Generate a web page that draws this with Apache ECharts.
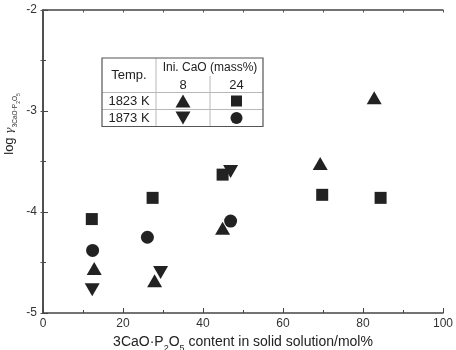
<!DOCTYPE html>
<html>
<head>
<meta charset="utf-8">
<script src="https://cdn.jsdelivr.net/npm/echarts@6/dist/echarts.min.js"></script>
<style>
  html, body { margin: 0; padding: 0; background: #fff; }
  #chart { width: 456px; height: 350px; }
</style>
</head>
<body>
<div id="chart"></div>
<script>
  // 1823 K, Ini. CaO 8 mass% (up triangle)
  var up1823 = [[12.8, -4.56], [27.9, -4.68], [44.9, -4.16], [69.3, -3.52], [82.8, -2.87]];
  // 1823 K, Ini. CaO 24 mass% (square)
  var sq1823 = [[12.2, -4.07], [27.4, -3.86], [44.9, -3.63], [69.8, -3.83], [84.4, -3.86]];
  // 1873 K, Ini. CaO 8 mass% (down triangle)
  var down1873 = [[12.3, -4.77], [29.4, -4.60], [46.9, -3.60]];
  // 1873 K, Ini. CaO 24 mass% (circle)
  var circ1873 = [[12.4, -4.38], [26.1, -4.25], [46.9, -4.09]];

  var tempLabels = ['1823 K', '1873 K'];
  var caoLabels = ['8', '24'];

  var ink = '#222';
  var font = 'Liberation Sans';

  var chart = echarts.init(document.getElementById('chart'), null, { renderer: 'canvas' });

  function scatter(name, data, symbol, size, rotate) {
    return {
      name: name,
      type: 'scatter',
      data: data,
      symbol: symbol,
      symbolSize: size,
      symbolRotate: rotate || 0,
      itemStyle: { color: ink, opacity: 1 },
      animation: false
    };
  }

  var axisLine = { lineStyle: { color: '#444', width: 1.5 } };

  // legend table (drawn in pixel space inside the plot)
  var tx = [102, 156, 210, 263];
  var ty = [58, 92.5, 109.5, 126.5];
  var gray = '#b8b8b8';
  function line(x1, y1, x2, y2, c, w) {
    return { type: 'line', shape: { x1: x1, y1: y1, x2: x2, y2: y2 }, style: { stroke: c, lineWidth: w }, silent: true };
  }
  function txt(x, y, s, size) {
    return { type: 'text', x: x, y: y, style: { text: s, font: size + 'px ' + font, fill: '#222', align: 'center', verticalAlign: 'middle' } };
  }
  function tri(cx, cy, down) {
    var w = 7.5, h = 6.5;
    var pts = down ? [[cx - w, cy - h], [cx + w, cy - h], [cx, cy + h]] : [[cx - w, cy + h], [cx + w, cy + h], [cx, cy - h]];
    return { type: 'polygon', shape: { points: pts }, style: { fill: ink } };
  }
  var c1 = (tx[1] + tx[2]) / 2, c2 = (tx[2] + tx[3]) / 2;
  var r1 = (ty[1] + ty[2]) / 2, r2 = (ty[2] + ty[3]) / 2;
  var table = [
    { type: 'rect', shape: { x: tx[0], y: ty[0], width: tx[3] - tx[0], height: ty[3] - ty[0] }, style: { fill: '#fff', stroke: 'none' } },
    line(tx[0], ty[1], tx[3], ty[1], gray, 1),
    line(tx[0], ty[2], tx[3], ty[2], gray, 1),
    line(tx[1], ty[0], tx[1], ty[3], gray, 1),
    line(tx[2], 76, tx[2], ty[3], gray, 1),
    { type: 'rect', shape: { x: tx[0], y: ty[0], width: tx[3] - tx[0], height: ty[3] - ty[0] }, style: { fill: 'none', stroke: '#555', lineWidth: 1.2 } },
    txt((tx[0] + tx[1]) / 2, 75, 'Temp.', 13),
    txt(c1 + 27, 68, 'Ini. CaO (mass%)', 12),
    txt(c1, 85, caoLabels[0], 13),
    txt(c2, 85, caoLabels[1], 13),
    txt((tx[0] + tx[1]) / 2, r1 + 0.5, tempLabels[0], 13),
    txt((tx[0] + tx[1]) / 2, r2 + 0.5, tempLabels[1], 13),
    tri(c1, r1, false),
    { type: 'rect', shape: { x: c2 - 5.5, y: r1 - 5.5, width: 11, height: 11 }, style: { fill: ink } },
    tri(c1, r2, true),
    { type: 'circle', shape: { cx: c2, cy: r2, r: 6 }, style: { fill: ink } }
  ];

  var yTitle = {
    type: 'text',
    x: 12,
    y: 124,
    rotation: Math.PI / 2,
    style: {
      text: '{a|log}{g| γ}{s|3CaO·P}{ss|2}{s|O}{ss|5}',
      align: 'center',
      verticalAlign: 'middle',
      fill: '#222',
      rich: {
        a: { fontSize: 13, fontFamily: font, verticalAlign: 'bottom', padding: [0, 0, 5, 0], fill: '#222' },
        g: { fontSize: 11, fontFamily: 'DejaVu Serif', fontStyle: 'italic', verticalAlign: 'bottom', padding: [0, 0, 5, 0], fill: '#333' },
        s: { fontSize: 6.5, fontFamily: font, verticalAlign: 'bottom', padding: [0, 0, 2, 0], fill: '#333' },
        ss: { fontSize: 5, fontFamily: font, verticalAlign: 'bottom', fill: '#333' }
      }
    }
  };

  chart.setOption({
    backgroundColor: '#fff',
    animation: false,
    grid: { left: 43, right: 13, top: 10, bottom: 37, outerBoundsMode: 'none', containLabel: false },
    xAxis: [{
      type: 'value',
      min: 0, max: 100, interval: 20,
      name: '{a|3CaO·P}{s|2}{a|O}{s|5}{a| content in solid solution/mol%}',
      nameLocation: 'middle',
      nameGap: 20,
      nameTextStyle: {
        rich: {
          a: { fontSize: 14, fontFamily: font, color: '#222', verticalAlign: 'bottom', padding: [0, 0, 4, 0] },
          s: { fontSize: 9, fontFamily: font, color: '#222', verticalAlign: 'bottom' }
        }
      },
      axisLine: axisLine,
      axisTick: { inside: true, length: 5, lineStyle: { color: '#444', width: 1 } },
      minorTick: { show: true, splitNumber: 2, length: 3, lineStyle: { color: '#444' } },
      splitLine: { show: false },
      axisLabel: { fontSize: 12, fontFamily: font, color: '#333', margin: 5 }
    }, {
      type: 'value', position: 'top',
      min: 0, max: 100, interval: 10,
      axisLine: axisLine,
      axisTick: { inside: true, length: 2.5, lineStyle: { color: '#555' } },
      splitLine: { show: false },
      axisLabel: { show: false }
    }],
    yAxis: [{
      type: 'value',
      min: -5, max: -2, interval: 1,
      axisLine: axisLine,
      axisTick: { inside: true, length: 5, lineStyle: { color: '#444', width: 1 } },
      minorTick: { show: true, splitNumber: 2, length: 3, lineStyle: { color: '#444' } },
      splitLine: { show: false },
      axisLabel: { fontSize: 12, fontFamily: font, color: '#333', margin: 6 }
    }, {
      type: 'value', position: 'right',
      min: -5, max: -2, interval: 0.5,
      axisLine: axisLine,
      axisTick: { inside: true, length: 2.5, lineStyle: { color: '#555' } },
      splitLine: { show: false },
      axisLabel: { show: false }
    }],
    series: [
      scatter('1823 K, 8', up1823, 'triangle', [15, 13]),
      scatter('1823 K, 24', sq1823, 'rect', [12, 12]),
      scatter('1873 K, 8', down1873, 'triangle', [15, 13], 180),
      scatter('1873 K, 24', circ1873, 'circle', 13)
    ],
    graphic: [{ type: 'group', z: 100, children: table }, yTitle]
  });
</script>
</body>
</html>
